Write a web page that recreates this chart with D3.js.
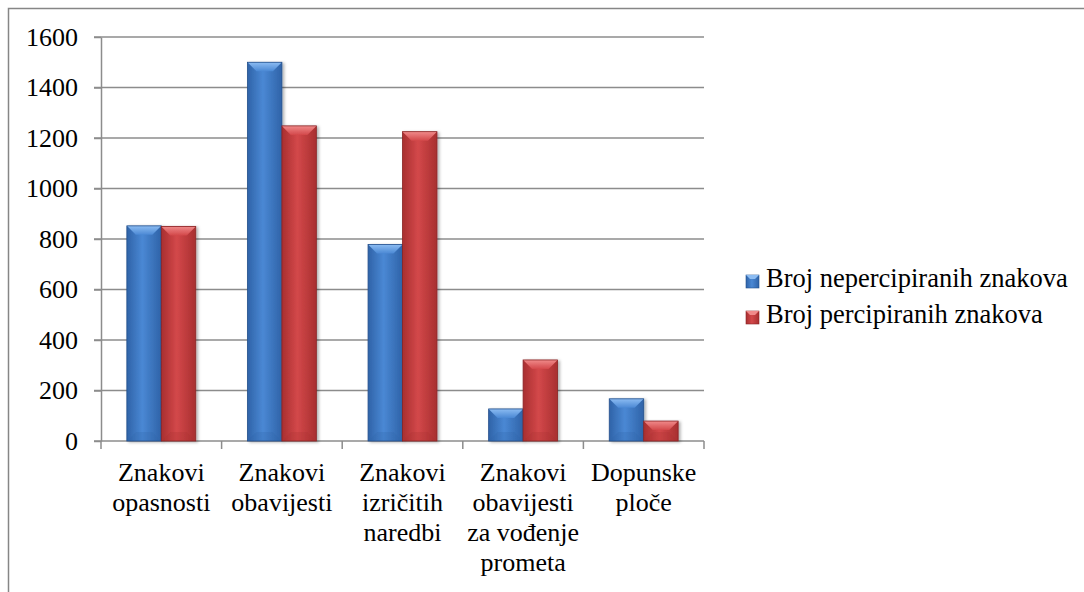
<!DOCTYPE html>
<meta charset="utf-8">
<script src="https://d3js.org/d3.v7.min.js"></script>
<body style="margin:0">
<div id="chart"></div>
<script>

// categories (line breaks as in the original)
var categories = [
  "Znakovi\nopasnosti",
  "Znakovi\nobavijesti",
  "Znakovi\nizričitih\nnaredbi",
  "Znakovi\nobavijesti\nza vođenje\nprometa",
  "Dopunske\nploče"
];
var seriesNames = ["Broj nepercipiranih znakova", "Broj percipiranih znakova"];
var nepercipirani = [852, 1500, 778, 127, 167];
var percipirani = [850, 1248, 1225, 321, 79];
var yTicks = [0, 200, 400, 600, 800, 1000, 1200, 1400, 1600];

var FONT = "Liberation Serif";
var width = 1084, height = 592;
var margin = {top: 37, left: 101, right: 380, bottom: 151};

var svg = d3.select("#chart").append("svg")
    .attr("width", width)
    .attr("height", height)
    .attr("font-family", FONT)
    .attr("font-size", 26)
    .style("display", "block");

var defs = svg.append("defs");

// colour sets for the bevelled bars
var palette = [
  {id: "blue", edge: "#2f63a8", mid: "#4a88d4", light: "#8cbcf2", dark: "#24508c"},
  {id: "red", edge: "#a82f30", mid: "#d3484a", light: "#f08a8a", dark: "#8a2425"}
];

palette.forEach(function(p) {
  var g = defs.append("linearGradient").attr("id", "body-" + p.id)
      .attr("x1", "0").attr("x2", "1").attr("y1", "0").attr("y2", "0");
  g.append("stop").attr("offset", "0%").attr("stop-color", p.edge);
  g.append("stop").attr("offset", "45%").attr("stop-color", p.mid);
  g.append("stop").attr("offset", "100%").attr("stop-color", p.edge);

  var t = defs.append("linearGradient").attr("id", "top-" + p.id)
      .attr("x1", "0").attr("x2", "0").attr("y1", "0").attr("y2", "1");
  t.append("stop").attr("offset", "0%").attr("stop-color", p.light);
  t.append("stop").attr("offset", "100%").attr("stop-color", p.mid);
});

var shadow = defs.append("filter").attr("id", "shadow")
    .attr("x", "-20%").attr("y", "-10%").attr("width", "150%").attr("height", "130%");
shadow.append("feDropShadow")
    .attr("dx", 2).attr("dy", 1).attr("stdDeviation", 1.5)
    .attr("flood-color", "#000").attr("flood-opacity", 0.3);

// outer frame
svg.append("rect")
    .attr("x", 8.5).attr("y", 8.5)
    .attr("width", width).attr("height", height)
    .attr("fill", "none")
    .attr("stroke", "#868686")
    .attr("stroke-width", 1.5);

var plotW = 704 - margin.left;
var plotH = 441 - margin.top;

var x0 = d3.scaleBand()
    .domain(categories)
    .range([margin.left, margin.left + plotW])
    .paddingInner(0).paddingOuter(0);

var x1 = d3.scaleBand()
    .domain([0, 1])
    .range([0, x0.bandwidth()])
    .paddingInner(0).paddingOuter(0.75);

var y = d3.scaleLinear()
    .domain([0, 1600])
    .range([margin.top + plotH, margin.top]);

// gridlines
svg.append("g").selectAll("line")
    .data(yTicks)
  .enter().append("line")
    .attr("x1", margin.left - 7)
    .attr("x2", margin.left + plotW)
    .attr("y1", function(d) { return y(d); })
    .attr("y2", function(d) { return y(d); })
    .attr("stroke", "#8c8c8c")
    .attr("stroke-width", 1.5);

// y axis
var yAxis = svg.append("g")
    .attr("transform", "translate(" + margin.left + ",0)")
    .call(d3.axisLeft(y).tickValues(yTicks).tickFormat(d3.format("d"))
      .tickSize(7).tickPadding(16).tickSizeOuter(0))
    .attr("font-family", FONT)
    .attr("font-size", 26);
yAxis.select(".domain").attr("stroke", "#8c8c8c").attr("stroke-width", 1.5);
yAxis.selectAll(".tick line").attr("stroke", "#8c8c8c").attr("stroke-width", 1.5);
yAxis.selectAll(".tick text")
    .attr("font-family", FONT)
    .attr("font-size", 26)
    .attr("fill", "#000");

// x axis ticks at band edges
var edges = categories.map(function(c) { return x0(c); }).concat([margin.left + plotW]);
svg.append("g").selectAll("line")
    .data(edges)
  .enter().append("line")
    .attr("x1", function(d) { return d; })
    .attr("x2", function(d) { return d; })
    .attr("y1", y(0))
    .attr("y2", y(0) + 8)
    .attr("stroke", "#8c8c8c")
    .attr("stroke-width", 1.5);

// bars
var rows = [];
categories.forEach(function(c, i) {
  rows.push({cat: c, s: 0, v: nepercipirani[i]});
  rows.push({cat: c, s: 1, v: percipirani[i]});
});

var bars = svg.append("g").selectAll("g")
    .data(rows)
  .enter().append("g")
    .attr("filter", "url(#shadow)");

bars.each(function(d) {
  var g = d3.select(this);
  var p = palette[d.s];
  var bx = x0(d.cat) + x1(d.s);
  var bw = x1.bandwidth();
  var top = y(d.v);
  var bot = y(0);
  var b = Math.min(9, (bot - top) / 2);

  g.append("rect")
      .attr("x", bx).attr("y", top)
      .attr("width", bw).attr("height", bot - top)
      .attr("fill", "url(#body-" + p.id + ")");

  // top bevel
  g.append("path")
      .attr("d", "M" + bx + "," + top + "L" + (bx + bw) + "," + top +
                 "L" + (bx + bw - b) + "," + (top + b) + "L" + (bx + b) + "," + (top + b) + "Z")
      .attr("fill", "url(#top-" + p.id + ")");

  // bottom bevel, faint
  g.append("path")
      .attr("d", "M" + bx + "," + bot + "L" + (bx + bw) + "," + bot +
                 "L" + (bx + bw - b) + "," + (bot - b) + "L" + (bx + b) + "," + (bot - b) + "Z")
      .attr("fill", p.edge)
      .attr("opacity", 0.25);

  g.append("rect")
      .attr("x", bx).attr("y", top)
      .attr("width", bw).attr("height", bot - top)
      .attr("fill", "none")
      .attr("stroke", p.dark)
      .attr("stroke-width", 0.8);
});

// category labels
svg.append("g").selectAll("text")
    .data(categories)
  .enter().append("text")
    .attr("text-anchor", "middle")
    .attr("font-family", FONT)
    .attr("font-size", 26)
    .attr("fill", "#000")
    .each(function(d) {
      var t = d3.select(this);
      var cx = x0(d) + x0.bandwidth() / 2;
      d.split("\n").forEach(function(line, k) {
        t.append("tspan")
            .attr("x", cx)
            .attr("y", 481 + k * 30)
            .text(line);
      });
    });

// legend
var legend = svg.append("g").selectAll("g")
    .data(seriesNames)
  .enter().append("g")
    .attr("transform", function(d, i) { return "translate(746," + (275 + i * 36) + ")"; });

legend.append("rect")
    .attr("width", 13).attr("height", 13)
    .attr("fill", function(d, i) { return "url(#body-" + palette[i].id + ")"; })
    .attr("stroke", function(d, i) { return palette[i].dark; })
    .attr("stroke-width", 0.6);
legend.append("path")
    .attr("d", "M0,0L13,0L9,4L4,4Z")
    .attr("fill", function(d, i) { return palette[i].light; });

legend.append("text")
    .attr("x", 20)
    .attr("y", 12)
    .attr("font-family", FONT)
    .attr("font-size", 26.5)
    .attr("fill", "#000")
    .text(function(d) { return d; });

</script>
</body>
